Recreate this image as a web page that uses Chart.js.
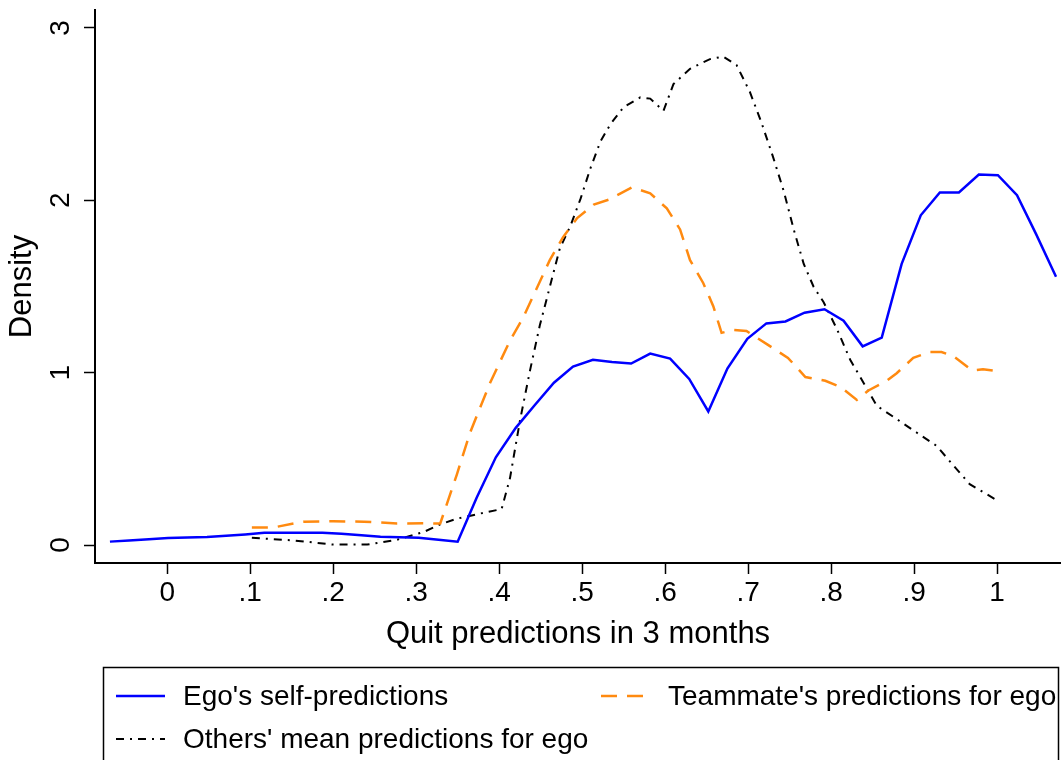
<!DOCTYPE html>
<html>
<head>
<meta charset="utf-8">
<script src="https://cdn.jsdelivr.net/npm/chart.js@4.4.1/dist/chart.umd.min.js"></script>
<style>
  html, body { margin: 0; padding: 0; background: #fff; }
</style>
</head>
<body>
<canvas id="chart-density" width="1061" height="760"></canvas>
<script>
// kernel density curves
let egoX = [-0.069, -0.046, -0.022, 0.001, 0.024, 0.048, 0.071, 0.094, 0.117, 0.141,
  0.164, 0.187, 0.210, 0.234, 0.257, 0.280, 0.303, 0.327, 0.350, 0.373,
  0.396, 0.420, 0.443, 0.466, 0.489, 0.513, 0.536, 0.559, 0.582, 0.606,
  0.629, 0.652, 0.675, 0.699, 0.722, 0.745, 0.768, 0.792, 0.815, 0.838,
  0.861, 0.885, 0.908, 0.931, 0.954, 0.978, 1.001, 1.024, 1.047, 1.071];
let egoY = [0.02, 0.027, 0.034, 0.041, 0.044, 0.047, 0.054, 0.062, 0.071, 0.071,
  0.071, 0.071, 0.066, 0.057, 0.048, 0.045, 0.042, 0.031, 0.02, 0.276,
  0.509, 0.68, 0.813, 0.942, 1.035, 1.075, 1.062, 1.053, 1.111, 1.082,
  0.964, 0.775, 1.024, 1.197, 1.286, 1.297, 1.348, 1.368, 1.302, 1.153,
  1.204, 1.631, 1.913, 2.046, 2.046, 2.15, 2.146, 2.03, 1.804, 1.557];

let mateX = [0.102, 0.128, 0.164, 0.200, 0.237, 0.277, 0.309, 0.329, 0.349, 0.365,
  0.389, 0.413, 0.429, 0.461, 0.477, 0.494, 0.514, 0.532, 0.560, 0.582,
  0.602, 0.618, 0.630, 0.646, 0.658, 0.668, 0.682, 0.698, 0.723, 0.748,
  0.769, 0.793, 0.812, 0.831, 0.845, 0.867, 0.879, 0.899, 0.919, 0.933,
  0.947, 0.970, 0.983, 1.000];
let mateY = [0.102, 0.102, 0.136, 0.138, 0.136, 0.125, 0.127, 0.125, 0.409, 0.653,
  0.94, 1.186, 1.32, 1.653, 1.786, 1.897, 1.975, 2.004, 2.075, 2.041,
  1.953, 1.831, 1.653, 1.519, 1.386, 1.231, 1.248, 1.242, 1.164, 1.086,
  0.975, 0.953, 0.915, 0.842, 0.897, 0.953, 0.997, 1.086, 1.12, 1.12,
  1.097, 1.013, 1.02, 1.009];

let othersX = [0.102, 0.152, 0.200, 0.241, 0.277, 0.309, 0.329, 0.349, 0.381, 0.403,
  0.413, 0.425, 0.437, 0.449, 0.461, 0.473, 0.486, 0.498, 0.510, 0.522,
  0.534, 0.550, 0.570, 0.582, 0.598, 0.610, 0.630, 0.654, 0.670, 0.686,
  0.702, 0.716, 0.730, 0.743, 0.755, 0.767, 0.779, 0.791, 0.807, 0.823,
  0.839, 0.855, 0.879, 0.903, 0.927, 0.947, 0.967, 0.998];
let othersY = [0.042, 0.027, 0.003, 0.003, 0.031, 0.076, 0.12, 0.153, 0.187, 0.209,
  0.387, 0.72, 1.009, 1.275, 1.497, 1.719, 1.853, 2.008, 2.186, 2.341,
  2.441, 2.541, 2.597, 2.59, 2.519, 2.674, 2.763, 2.819, 2.834, 2.785,
  2.63, 2.452, 2.252, 2.052, 1.83, 1.631, 1.497, 1.409, 1.253, 1.075,
  0.942, 0.808, 0.731, 0.653, 0.576, 0.464, 0.353, 0.265];

let seriesNames = [
  "Ego's self-predictions",
  "Teammate's predictions for ego",
  "Others' mean predictions for ego",
];

let xTicks = [0, 0.1, 0.2, 0.3, 0.4, 0.5, 0.6, 0.7, 0.8, 0.9, 1];
let xTickLabels = ["0", ".1", ".2", ".3", ".4", ".5", ".6", ".7", ".8", ".9", "1"];
let yTicks = [0, 1, 2, 3];
let yTickLabels = ["0", "1", "2", "3"];

let FONT = "'Liberation Sans', Arial, Helvetica, sans-serif";

let toPoints = function (xs, ys) {
  return xs.map(function (x, i) {
    return { x: x, y: ys[i] };
  });
};

// y tick labels are rotated in the original, draw them by hand
let yLabelPlugin = {
  id: "yLabels",
  afterDraw: function (chart) {
    let ctx = chart.ctx;
    let yScale = chart.scales.y;
    ctx.save();
    ctx.fillStyle = "#000";
    ctx.font = "28px " + FONT;
    ctx.textAlign = "center";
    ctx.textBaseline = "middle";
    yTicks.forEach(function (v, i) {
      let py = yScale.getPixelForValue(v);
      ctx.save();
      ctx.translate(61, py);
      ctx.rotate(-Math.PI / 2);
      ctx.fillText(yTickLabels[i], 0, 0);
      ctx.restore();
    });
    ctx.restore();
  },
};

// boxed legend below the axis title
let boxLegendPlugin = {
  id: "boxLegend",
  afterDraw: function (chart) {
    let ctx = chart.ctx;
    let ds = chart.data.datasets;
    let slots = [
      { x: 116, y: 696 },
      { x: 601, y: 696 },
      { x: 116, y: 739 },
    ];
    ctx.save();
    ctx.strokeStyle = "#000";
    ctx.lineWidth = 1.5;
    ctx.strokeRect(103.5, 667.5, 955, 100);

    ctx.font = "28px " + FONT;
    ctx.textBaseline = "middle";
    ctx.textAlign = "left";
    ds.forEach(function (d, i) {
      let s = slots[i];
      ctx.beginPath();
      ctx.setLineDash(d.borderDash || []);
      ctx.strokeStyle = d.borderColor;
      ctx.lineWidth = d.borderWidth;
      ctx.moveTo(s.x, s.y);
      ctx.lineTo(s.x + 49, s.y);
      ctx.stroke();
      ctx.setLineDash([]);
      ctx.fillStyle = "#000";
      ctx.fillText(d.label, s.x + 67, s.y + 1);
    });
    ctx.restore();
  },
};

let ctx = document.getElementById("chart-density").getContext("2d");

new Chart(ctx, {
  type: "line",
  data: {
    datasets: [
      {
        label: seriesNames[0],
        data: toPoints(egoX, egoY),
        borderColor: "#0000ff",
        borderWidth: 2.5,
      },
      {
        label: seriesNames[1],
        data: toPoints(mateX, mateY),
        borderColor: "#ff8a10",
        borderWidth: 2.5,
        borderDash: [16, 10],
      },
      {
        label: seriesNames[2],
        data: toPoints(othersX, othersY),
        borderColor: "#000",
        borderWidth: 2,
        borderDash: [8, 6, 2, 6],
      },
    ],
  },
  options: {
    responsive: false,
    animation: false,
    layout: { padding: { top: 10, right: 0, bottom: 100, left: 0 } },
    elements: {
      point: { radius: 0 },
      line: { tension: 0, fill: false },
    },
    plugins: {
      legend: { display: false },
      tooltip: { enabled: false },
    },
    scales: {
      x: {
        type: "linear",
        min: -0.087,
        max: 1.077,
        afterBuildTicks: function (scale) {
          scale.ticks = xTicks.map(function (v) {
            return { value: v };
          });
        },
        afterFit: function (scale) {
          scale.height = 97;
        },
        grid: {
          drawOnChartArea: false,
          drawTicks: true,
          tickLength: 11,
          tickWidth: 1.5,
          tickColor: "#000",
        },
        border: { display: true, color: "#000", width: 2 },
        ticks: {
          color: "#000",
          font: { family: FONT, size: 28 },
          padding: 2,
          maxRotation: 0,
          autoSkip: false,
          callback: function (v, i) {
            return xTickLabels[i];
          },
        },
        title: {
          display: true,
          text: "Quit predictions in 3 months",
          color: "#000",
          font: { family: FONT, size: 31 },
          padding: { top: 0, bottom: 7 },
        },
      },
      y: {
        type: "linear",
        min: -0.104,
        max: 3.104,
        afterBuildTicks: function (scale) {
          scale.ticks = yTicks.map(function (v) {
            return { value: v };
          });
        },
        afterFit: function (scale) {
          scale.width = 95;
        },
        grid: {
          drawOnChartArea: false,
          drawTicks: true,
          tickLength: 11,
          tickWidth: 1.5,
          tickColor: "#000",
        },
        border: { display: true, color: "#000", width: 2 },
        ticks: { display: false },
        title: {
          display: true,
          text: "Density",
          color: "#000",
          font: { family: FONT, size: 31 },
          padding: { top: 4, bottom: 0 },
        },
      },
    },
  },
  plugins: [yLabelPlugin, boxLegendPlugin],
});
</script>
</body>
</html>
